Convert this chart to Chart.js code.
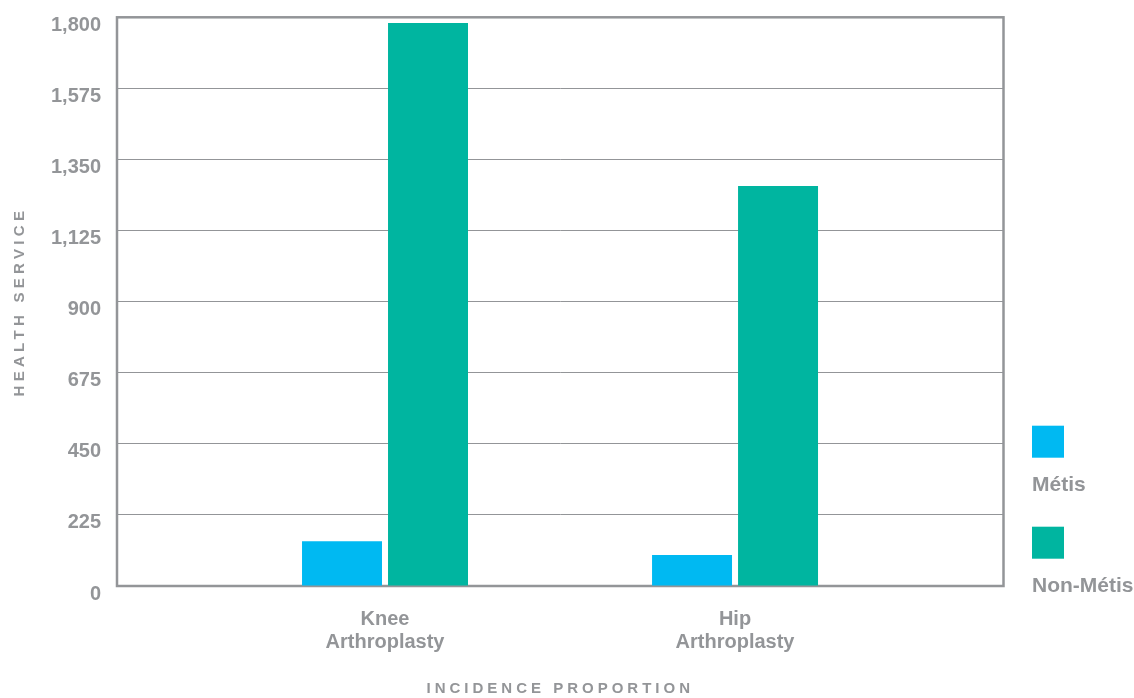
<!DOCTYPE html>
<html>
<head>
<meta charset="utf-8">
<title>Knee and Hip Arthroplasty</title>
<script src="https://cdn.jsdelivr.net/npm/chart.js@4/dist/chart.umd.min.js"></script>
<style>
  html, body { margin: 0; padding: 0; background: #ffffff; overflow: hidden; }
  #chart { display: block; }
</style>
</head>
<body>
<canvas id="chart" width="1134" height="698"></canvas>
<script>
// Procedures shown along the x axis (each label is split over two lines)
const categories = [['Knee', 'Arthroplasty'], ['Hip', 'Arthroplasty']];
// Series
const seriesNames = ['Métis', 'Non-Métis'];
const metis = [142, 98];
const nonMetis = [1782, 1266];
// Value axis ticks
const yTicks = [0, 225, 450, 675, 900, 1125, 1350, 1575, 1800];

const GREY = '#939598';
const FONT = "'Liberation Sans', Arial, Helvetica, sans-serif";

// Each procedure sits at position 1, 2, ... on a linear x scale
const toPoints = vals => vals.map((v, i) => ({ x: i + 1, y: v }));

// Box around the plotting area
const framePlugin = {
  id: 'frame',
  beforeDatasetsDraw(chart) {
    const { ctx, chartArea: a } = chart;
    ctx.save();
    ctx.strokeStyle = GREY;
    ctx.lineWidth = 2.5;
    ctx.strokeRect(a.left, a.top, a.right - a.left, a.bottom - a.top);
    ctx.restore();
  }
};

// Letter-spaced axis titles
const titleSpacing = { x: '4px', y: '4.3px' };
const spacedTitles = {
  id: 'spacedTitles',
  beforeDraw(chart) {
    Object.values(chart.scales).forEach(scale => {
      if (scale._spaced) return;
      const orig = scale.drawTitle;
      const spacing = titleSpacing[scale.id] || '0px';
      scale.drawTitle = function () {
        const ctx = this.ctx;
        ctx.save();
        ctx.letterSpacing = spacing;
        orig.apply(this, arguments);
        ctx.restore();
      };
      scale._spaced = true;
    });
  }
};

// Legend on the right: a colour square with its series name beneath
const stackedLegend = {
  id: 'stackedLegend',
  afterDraw(chart) {
    const { ctx, chartArea: a } = chart;
    const sets = chart.data.datasets;
    const n = sets.length;
    ctx.save();
    ctx.font = 'bold 21px ' + FONT;
    ctx.textAlign = 'left';
    ctx.textBaseline = 'alphabetic';
    sets.forEach((ds, i) => {
      const x = a.right + 28.5;
      const top = a.bottom - 59.3 - (n - 1 - i) * 101;
      ctx.fillStyle = ds.backgroundColor;
      ctx.fillRect(x, top, 32, 32);
      ctx.fillStyle = GREY;
      ctx.fillText(ds.label, x, top + 65);
    });
    ctx.restore();
  }
};

new Chart(document.getElementById('chart'), {
  type: 'bar',
  data: {
    datasets: [
      { label: seriesNames[0], data: toPoints(metis), backgroundColor: '#00b9f2' },
      { label: seriesNames[1], data: toPoints(nonMetis), backgroundColor: '#00b5a0' }
    ]
  },
  options: {
    responsive: false,
    animation: false,
    devicePixelRatio: 1,
    categoryPercentage: 0.4914,
    barPercentage: 0.93,
    layout: { padding: { top: 17.3, right: 130.5, left: 0, bottom: 0 } },
    plugins: {
      legend: { display: false },
      tooltip: { enabled: false }
    },
    scales: {
      x: {
        type: 'linear',
        offset: false,
        min: 0.2343,
        max: 2.767,
        afterBuildTicks(scale) {
          scale.ticks = categories.map((c, i) => ({ value: i + 1 }));
        },
        afterFit(scale) {
          scale.height = 112;
          scale.paddingLeft = 0;
          scale.paddingRight = 0;
        },
        grid: { display: false, offset: false },
        border: { display: false },
        ticks: {
          autoSkip: false,
          maxRotation: 0,
          padding: 14,
          color: GREY,
          font: { family: FONT, size: 20, weight: 'bold', lineHeight: 1.15 },
          callback: (value) => categories[Math.round(value) - 1] || ''
        },
        title: {
          display: true,
          text: 'INCIDENCE PROPORTION',
          color: GREY,
          font: { family: FONT, size: 15, weight: 'bold' },
          padding: { top: 0, bottom: 0 }
        }
      },
      y: {
        min: 0,
        max: 1800,
        afterBuildTicks(scale) {
          scale.ticks = yTicks.map(v => ({ value: v }));
        },
        afterFit(scale) {
          scale.width = 117;
          scale.paddingTop = 0;
          scale.paddingBottom = 0;
        },
        grid: { color: GREY, lineWidth: 1, drawTicks: false },
        border: { display: false },
        ticks: {
          padding: 16,
          labelOffset: 8,
          color: GREY,
          font: { family: FONT, size: 20, weight: 'bold' },
          callback: (value) => value.toLocaleString('en-US')
        },
        title: {
          display: true,
          text: 'HEALTH SERVICE',
          color: GREY,
          font: { family: FONT, size: 15, weight: 'bold' },
          padding: { top: 11, bottom: 0 }
        }
      }
    }
  },
  plugins: [framePlugin, spacedTitles, stackedLegend]
});
</script>
</body>
</html>
